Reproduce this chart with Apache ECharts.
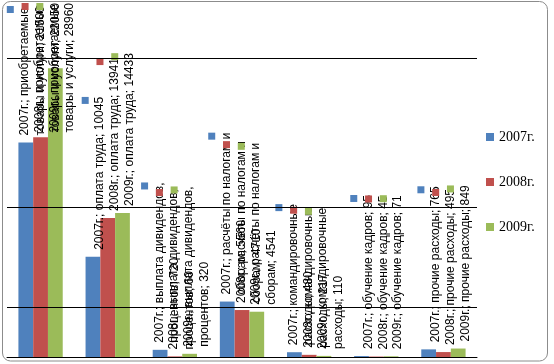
<!DOCTYPE html>
<html>
<head>
<meta charset="utf-8">
<script src="https://cdn.jsdelivr.net/npm/echarts@6/dist/echarts.min.js"></script>
<style>html,body{margin:0;padding:0;background:#fff;}#c{width:554px;height:364px;}</style>
</head>
<body>
<div id="c"></div>
<script>
const categories = ['приобретаемые товары и услуги', 'оплата труда', 'выплата дивидендов, процентов', 'расчёты по налогам и сборам', 'командировочные расходы', 'обучение кадров', 'прочие расходы'];
const seriesNames = ['2007г.', '2008г.', '2009г.'];
const values2007 = [21500, 10045, 720, 5560, 480, 95, 765];
const values2008 = [22050, 13941, 60, 4710, 217, 45, 495];
const values2009 = [28960, 14433, 320, 4541, 110, 71, 849];
const gridValues = [5000, 15000, 30000];
const colors = ['#4F81BD', '#C0504D', '#9BBB59'];

const LABEL_FONT = '12px "Liberation Sans"';
const WRAP_WIDTH = 165;
const measureCtx = document.createElement('canvas').getContext('2d');
measureCtx.font = LABEL_FONT;
function wrap(text) {
  const words = text.split(' ');
  const lines = [];
  let cur = '';
  for (const w of words) {
    const t = cur ? cur + ' ' + w : w;
    if (cur && measureCtx.measureText(t).width > WRAP_WIDTH) {
      lines.push(cur);
      cur = w;
    } else {
      cur = t;
    }
  }
  if (cur) lines.push(cur);
  return lines.join('\n');
}

const chart = echarts.init(document.getElementById('c'), null, {renderer: 'canvas'});
const allValues = [values2007, values2008, values2009];

function makeBar(i) {
  return {
    name: seriesNames[i],
    type: 'bar',
    data: allValues[i],
    barGap: '0%',
    barCategoryGap: '34%',
    z: 2,
    itemStyle: {color: colors[i]},
    label: {
      show: true,
      position: 'top',
      rotate: 90,
      align: 'left',
      verticalAlign: 'middle',
      distance: 7,
      offset: [0, 3],
      fontFamily: 'Liberation Sans',
      fontSize: 12,
      lineHeight: 15.5,
      color: '#000',
      formatter: function (p) {
        return '{sq|}\n' + wrap(p.seriesName + '; ' + p.name + '; ' + p.value);
      },
      rich: {
        sq: {width: 7, height: 7, lineHeight: 14, backgroundColor: colors[i], align: 'right'}
      }
    },
    labelLayout: function (params) {
      const r = params.labelRect;
      if (r.y < 3) return {dx: -(3 - r.y)};
      return {};
    }
  };
}

chart.setOption({
  animation: false,
  backgroundColor: '#fff',
  graphic: [{
    type: 'rect',
    shape: {x: 2.5, y: 1.5, width: 545, height: 359.5, r: 8},
    style: {fill: 'none', stroke: '#8c8c8c', lineWidth: 1},
    silent: true, z: 0
  }],
  grid: {left: 7, right: 77, top: 8, bottom: 7, containLabel: false},
  legend: {
    data: seriesNames,
    orient: 'vertical',
    left: 486,
    top: 130,
    padding: 0,
    itemWidth: 8,
    itemHeight: 8,
    itemGap: 31,
    icon: 'rect',
    textStyle: {fontFamily: 'Liberation Serif', fontSize: 14, color: '#000'}
  },
  xAxis: {
    type: 'category',
    data: categories,
    axisLine: {show: true, lineStyle: {color: '#000', width: 1}},
    axisTick: {show: false},
    axisLabel: {show: false},
    splitLine: {show: false}
  },
  yAxis: {
    type: 'value',
    min: 0,
    max: 35000,
    interval: 5000,
    axisLine: {show: false},
    axisTick: {show: false},
    axisLabel: {show: false},
    splitLine: {show: false}
  },
  series: [
    {
      type: 'line',
      data: [],
      silent: true,
      z: 1,
      markLine: {
        silent: true,
        symbol: 'none',
        label: {show: false},
        lineStyle: {color: '#000', type: 'solid', width: 1},
        data: gridValues.map(v => ({yAxis: v}))
      }
    },
    makeBar(0), makeBar(1), makeBar(2)
  ]
});
</script>
</body>
</html>
